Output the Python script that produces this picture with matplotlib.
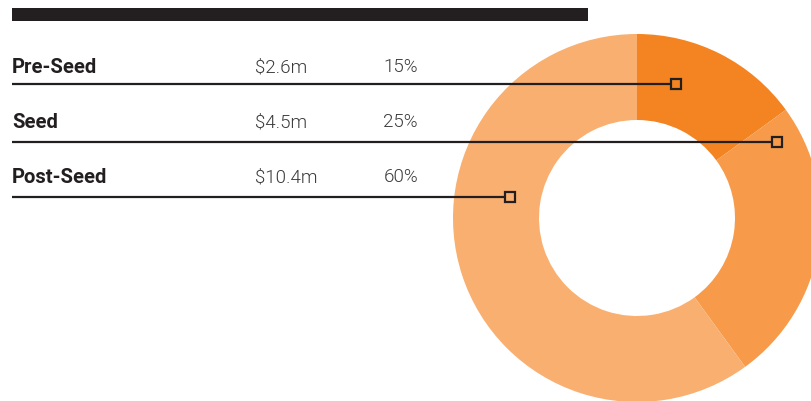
import matplotlib.pyplot as plt

stages = ['Pre-Seed', 'Seed', 'Post-Seed']
amounts = ['$2.6m', '$4.5m', '$10.4m']
shares = [15, 25, 60]
colors = ['#F48422', '#F79B4A', '#F9AF6F']
DARK = '#231F20'

H = 401
fig = plt.figure(figsize=(8.12, 4.01), dpi=100)
ax = fig.add_axes([0, 0, 1, 1])

# donut
cx, cy, r_out, r_in = 637, H - 218, 184, 98
ax.pie(shares, colors=colors, startangle=90, counterclock=False,
       center=(cx, cy), radius=r_out, frame=True,
       wedgeprops=dict(width=r_out - r_in, linewidth=0))
ax.set_xlim(0, 812)
ax.set_ylim(0, H)
ax.set_aspect('equal')
ax.axis('off')

# top bar
ax.add_patch(plt.Rectangle((12, H - 21), 576, 13, color=DARK, lw=0))

text_y = [67, 122, 177]
line_y = [84, 142, 197]
marker_x = [676, 777, 510]
for i in range(3):
    ty = H - text_y[i]
    ly = H - line_y[i]
    ax.text(12, ty, stages[i], fontsize=14.6, fontweight='bold', color=DARK,
            family='Roboto', va='center', ha='left')
    ax.text(255, ty, amounts[i], fontsize=13.5, fontweight=300, color='#3a3a3a',
            family='Roboto', va='center', ha='left')
    ax.text(418, ty, '%d%%' % shares[i], fontsize=13.5, fontweight=300, color='#3a3a3a',
            family='Roboto', va='center', ha='right')
    ax.plot([12, marker_x[i] - 5], [ly, ly], color=DARK, lw=1.6, solid_capstyle='butt')
    ax.plot(marker_x[i], ly, marker='s', ms=7, mfc='none', mec=DARK, mew=1.6)

fig.savefig('out.png', dpi=100)
